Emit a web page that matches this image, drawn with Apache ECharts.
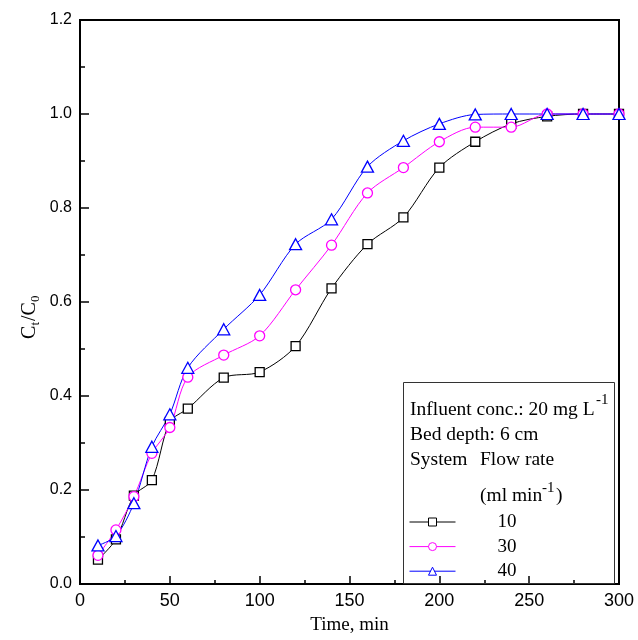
<!DOCTYPE html>
<html>
<head>
<meta charset="utf-8">
<script src="https://cdn.jsdelivr.net/npm/echarts@6/dist/echarts.min.js"></script>
<style>
  html, body { margin: 0; padding: 0; background: #fff; }
  #chart { width: 638px; height: 640px; }
</style>
</head>
<body>
<div id="chart"></div>
<script>
const times = [10, 20, 30, 40, 50, 60, 80, 100, 120, 140, 160, 180, 200, 220, 240, 260, 280, 300];
const flow10 = [0.052, 0.095, 0.188, 0.221, 0.345, 0.373, 0.439, 0.451, 0.506, 0.629, 0.723, 0.780, 0.886, 0.941, 0.979, 0.995, 1.0, 1.0];
const flow30 = [0.061, 0.115, 0.186, 0.278, 0.333, 0.440, 0.487, 0.528, 0.626, 0.721, 0.832, 0.886, 0.941, 0.972, 0.972, 1.0, 1.0, 1.0];
const flow40 = [0.082, 0.102, 0.172, 0.292, 0.361, 0.460, 0.542, 0.615, 0.723, 0.776, 0.888, 0.943, 0.979, 0.999, 1.0, 1.0, 1.0, 1.0];
const seriesNames = ['10', '30', '40'];

const serif = '"Liberation Serif", "Times New Roman", serif';
const sans = '"Liberation Sans", Arial, sans-serif';

const seriesDefinitions = [
  { name: seriesNames[0], values: flow10, color: '#000000', symbol: 'rect', symbolSize: 9 },
  { name: seriesNames[1], values: flow30, color: '#ff00ff', symbol: 'circle', symbolSize: 10 },
  { name: seriesNames[2], values: flow40, color: '#0000ff', symbol: 'triangle', symbolSize: [12, 11] }
];

function textItem(text, x, y, size) {
  return {
    type: 'text',
    x: x,
    y: y,
    z: 100,
    style: {
      text: text,
      fill: '#000',
      fontFamily: serif,
      fontSize: size,
      align: 'left',
      verticalAlign: 'middle'
    }
  };
}

const chart = echarts.init(document.getElementById('chart'), null, { renderer: 'canvas' });

chart.setOption({
  animation: false,
  backgroundColor: '#fff',
  grid: {
    left: 80,
    right: 19,
    top: 20,
    bottom: 53,
    show: true,
    borderColor: '#000',
    borderWidth: 2,
    backgroundColor: 'transparent'
  },
  xAxis: {
    type: 'value',
    min: 0,
    max: 300,
    interval: 50,
    name: 'Time, min',
    nameLocation: 'middle',
    nameGap: 32,
    nameTextStyle: { fontFamily: serif, fontSize: 19, color: '#000' },
    axisLine: { show: true, onZero: false, lineStyle: { color: '#000', width: 2 } },
    axisTick: { show: true, inside: true, length: 8, lineStyle: { color: '#000', width: 1.5 } },
    minorTick: { show: true, splitNumber: 2, length: 4, lineStyle: { color: '#000', width: 1.5 } },
    axisLabel: { color: '#000', fontFamily: sans, fontSize: 18, margin: 8 },
    splitLine: { show: false }
  },
  yAxis: {
    type: 'value',
    min: 0,
    max: 1.2,
    interval: 0.2,
    axisLine: { show: true, onZero: false, lineStyle: { color: '#000', width: 2 } },
    axisTick: { show: true, inside: true, length: 9, lineStyle: { color: '#000', width: 1.5 } },
    minorTick: { show: true, splitNumber: 2, length: 5, lineStyle: { color: '#000', width: 1.5 } },
    axisLabel: {
      color: '#000',
      fontFamily: sans,
      fontSize: 16,
      margin: 8,
      formatter: value => value.toFixed(1)
    },
    splitLine: { show: false }
  },
  legend: {
    show: true,
    orient: 'vertical',
    left: 409,
    top: 512.5,
    z: 100,
    itemWidth: 46,
    itemHeight: 10,
    itemGap: 5.6,
    padding: 0,
    data: seriesNames,
    lineStyle: { width: 1 },
    itemStyle: { borderWidth: 1 },
    textStyle: {
      fontFamily: serif,
      fontSize: 19,
      color: '#000',
      padding: [0, 0, 0, 37]
    }
  },
  graphic: [
    {
      type: 'rect',
      shape: { x: 403.5, y: 382.5, width: 211, height: 201 },
      z: 1,
      style: { fill: 'none', stroke: '#333', lineWidth: 1 }
    },
    textItem('Influent conc.: 20 mg L', 410, 410, 19.5),
    textItem('-1', 596, 400, 15),
    textItem('Bed depth: 6 cm', 410, 435, 19.5),
    textItem('System', 410, 460, 19.5),
    textItem('Flow rate', 480, 460, 19.5),
    textItem('(ml min', 480, 496, 19.5),
    textItem('-1', 542, 488, 15),
    textItem(')', 556, 496, 19.5),
    {
      type: 'group',
      x: 30,
      y: 339,
      rotation: Math.PI / 2,
      z: 100,
      children: [
        textItem('C', 0, 0, 20),
        textItem('t', 13.5, 6, 13),
        textItem('/C', 18, 0, 20),
        textItem('0', 37, 6, 13)
      ]
    }
  ],
  series: seriesDefinitions.map(definition => ({
    name: definition.name,
    type: 'line',
    smooth: 0.3,
    symbol: definition.symbol,
    symbolSize: definition.symbolSize,
    showSymbol: true,
    clip: false,
    data: times.map((t, i) => [t, definition.values[i]]),
    lineStyle: { color: definition.color, width: 1 },
    itemStyle: { color: '#fff', borderColor: definition.color, borderWidth: 1.3 },
    emphasis: { disabled: true }
  }))
});
</script>
</body>
</html>
